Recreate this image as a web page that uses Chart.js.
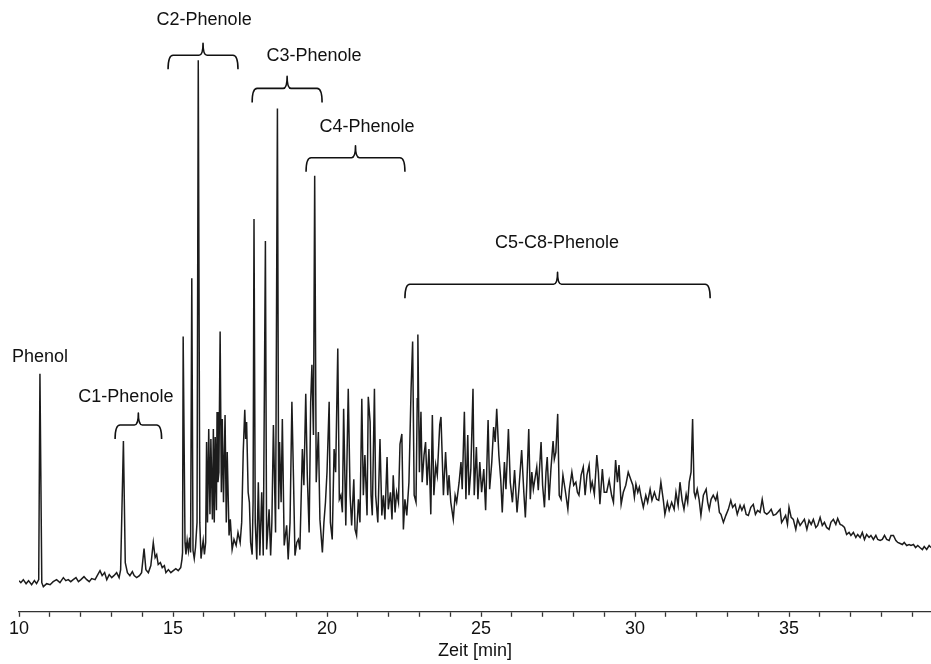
<!DOCTYPE html>
<html>
<head>
<meta charset="utf-8">
<title>Phenole – Chromatogramm</title>
<script src="https://cdn.jsdelivr.net/npm/chart.js@4.4.1/dist/chart.umd.min.js"></script>
<style>
  html, body { margin: 0; padding: 0; background: #fff; }
  #chart { display: block; }
</style>
</head>
<body>
<canvas id="chart" width="931" height="664"></canvas>
<script>
// chromatogram trace: [retention time in min, detector signal]
const traceStart = [
  [10.00, 22], [10.06, 20], [10.14, 23], [10.23, 19], [10.31, 22], [10.41, 18], [10.50, 22], [10.57, 19],
  [10.64, 23], [10.68, 228], [10.74, 20], [10.79, 16], [10.90, 19], [11.01, 18], [11.11, 21], [11.22, 23],
  [11.33, 20], [11.44, 25], [11.52, 22], [11.60, 23], [11.68, 21], [11.76, 23], [11.85, 25], [11.93, 21],
  [12.01, 23], [12.11, 26], [12.20, 23], [12.28, 21], [12.36, 24], [12.47, 23], [12.54, 27], [12.63, 32],
  [12.70, 27], [12.78, 30], [12.85, 23], [12.93, 28], [13.01, 25], [13.08, 27], [13.17, 30], [13.25, 25],
  [13.30, 33], [13.39, 161], [13.45, 40], [13.52, 30], [13.60, 27], [13.68, 31], [13.74, 27], [13.82, 25],
  [13.91, 27], [13.98, 30], [14.06, 54], [14.12, 33], [14.20, 30], [14.28, 37], [14.36, 60], [14.42, 45],
  [14.47, 48], [14.52, 38], [14.59, 40], [14.65, 35], [14.72, 37], [14.77, 30], [14.85, 33], [14.93, 30],
  [15.01, 32], [15.09, 34], [15.17, 32], [15.25, 35], [15.29, 43]
];

const traceC2C3 = [
  [15.31, 50], [15.33, 265], [15.39, 60], [15.42, 48], [15.46, 62], [15.50, 52], [15.54, 65], [15.57, 50],
  [15.61, 323], [15.65, 52], [15.69, 44], [15.73, 55], [15.78, 80], [15.82, 540], [15.87, 80], [15.91, 44],
  [15.95, 55], [15.98, 62], [16.02, 48], [16.06, 60], [16.09, 160], [16.12, 80], [16.16, 173], [16.20, 88],
  [16.23, 163], [16.28, 83], [16.31, 173], [16.34, 80], [16.37, 165], [16.41, 92], [16.43, 190], [16.46, 120],
  [16.49, 130], [16.53, 270], [16.57, 110], [16.60, 183], [16.64, 100], [16.69, 187], [16.73, 80], [16.76, 150],
  [16.82, 67], [16.86, 83], [16.92, 53], [16.98, 63], [17.05, 57], [17.11, 70], [17.18, 60], [17.23, 80],
  [17.28, 150], [17.33, 192], [17.36, 163], [17.39, 180], [17.44, 110], [17.48, 100], [17.52, 60], [17.57, 48],
  [17.60, 100], [17.63, 382], [17.67, 80], [17.72, 43], [17.77, 120], [17.82, 47], [17.88, 110], [17.93, 47],
  [18.00, 360], [18.04, 53], [18.12, 93], [18.17, 47], [18.21, 80], [18.26, 177], [18.33, 70], [18.39, 492],
  [18.43, 93], [18.46, 160], [18.51, 100], [18.55, 183], [18.61, 57], [18.69, 77], [18.74, 43], [18.80, 80],
  [18.86, 200], [18.91, 127], [18.96, 47], [19.02, 60], [19.07, 63], [19.12, 53], [19.20, 153], [19.25, 117],
  [19.31, 208], [19.36, 127], [19.42, 70], [19.47, 200], [19.51, 237], [19.56, 167], [19.60, 425], [19.65, 120],
  [19.72, 170], [19.77, 83], [19.85, 50], [19.90, 80], [19.95, 100], [20.00, 130], [20.07, 200]
];

const traceC4 = [
  [20.11, 80], [20.17, 63], [20.23, 153], [20.28, 130], [20.35, 253], [20.40, 103], [20.45, 107], [20.50, 90],
  [20.54, 193], [20.61, 77], [20.69, 213], [20.75, 107], [20.80, 77], [20.87, 123], [20.91, 73], [20.96, 67],
  [21.02, 103], [21.07, 80], [21.13, 203], [21.18, 107], [21.23, 147], [21.30, 87], [21.34, 205], [21.40, 180],
  [21.43, 107], [21.47, 87], [21.54, 213], [21.58, 107], [21.65, 80], [21.72, 163], [21.78, 87], [21.83, 107],
  [21.88, 83], [21.95, 145], [21.99, 93], [22.06, 110], [22.11, 83], [22.15, 127], [22.21, 90], [22.26, 110],
  [22.32, 100], [22.37, 158], [22.43, 168], [22.48, 73], [22.53, 103], [22.59, 87], [22.66, 120], [22.73, 213],
  [22.78, 260], [22.83, 107]
];

const traceLate = [
  [22.89, 100], [22.93, 203], [22.95, 267], [23.00, 130], [23.05, 190], [23.09, 120], [23.15, 147], [23.20, 160],
  [23.25, 117], [23.31, 153], [23.37, 88], [23.42, 187], [23.47, 107], [23.53, 137], [23.58, 127], [23.66, 177],
  [23.70, 185], [23.78, 107], [23.85, 150], [23.92, 107], [23.96, 127], [24.02, 100], [24.10, 83], [24.16, 107],
  [24.21, 100], [24.29, 120], [24.35, 140], [24.39, 113], [24.46, 190], [24.51, 103], [24.57, 167], [24.61, 107],
  [24.67, 133], [24.74, 213], [24.78, 107], [24.85, 155], [24.90, 103], [24.96, 140], [25.02, 110], [25.09, 133],
  [25.15, 92], [25.23, 182], [25.28, 113], [25.35, 140], [25.41, 175], [25.46, 160], [25.51, 193], [25.58, 147],
  [25.64, 123], [25.69, 90], [25.76, 140], [25.81, 113], [25.89, 173], [25.95, 120], [26.02, 100], [26.09, 132],
  [26.17, 90], [26.23, 113], [26.32, 152], [26.39, 110], [26.44, 85], [26.49, 120], [26.55, 173], [26.60, 103],
  [26.65, 130], [26.70, 113], [26.75, 123], [26.81, 135], [26.86, 112], [26.95, 160], [27.00, 117], [27.06, 95],
  [27.11, 130], [27.15, 145], [27.21, 102], [27.27, 133], [27.34, 161], [27.38, 143], [27.43, 150], [27.49, 188],
  [27.54, 107], [27.60, 103], [27.66, 127], [27.73, 113], [27.82, 93], [27.87, 113], [27.95, 130], [28.01, 117],
  [28.08, 120], [28.13, 110], [28.18, 107], [28.25, 127], [28.32, 135], [28.38, 107], [28.44, 127], [28.51, 137],
  [28.56, 113], [28.61, 120], [28.68, 108], [28.76, 147], [28.81, 130], [28.86, 98]
];

const traceTail = [
  [28.94, 133], [29.00, 110], [29.08, 110], [29.16, 122], [29.24, 107], [29.30, 100], [29.37, 142], [29.43, 120],
  [29.48, 137], [29.55, 98], [29.62, 110], [29.70, 117], [29.78, 130], [29.86, 123], [29.93, 117], [29.98, 105],
  [30.03, 118], [30.09, 110], [30.14, 115], [30.20, 105], [30.27, 95], [30.35, 107], [30.41, 100], [30.49, 113],
  [30.55, 102], [30.63, 110], [30.70, 103], [30.77, 102], [30.84, 120], [30.92, 102], [30.97, 88], [31.05, 100],
  [31.11, 92], [31.19, 100], [31.27, 93], [31.33, 110], [31.40, 97], [31.46, 120], [31.53, 102], [31.59, 93],
  [31.66, 108], [31.71, 100], [31.76, 120], [31.82, 130], [31.87, 183], [31.92, 110], [31.96, 105], [32.02, 113],
  [32.08, 103], [32.14, 87], [32.22, 107], [32.31, 113], [32.36, 100], [32.41, 93], [32.47, 103], [32.54, 107],
  [32.62, 102], [32.67, 108], [32.74, 90], [32.79, 88], [32.87, 80], [32.95, 87], [33.03, 93], [33.11, 102],
  [33.17, 95], [33.25, 98], [33.32, 88], [33.41, 97], [33.47, 92], [33.54, 97], [33.61, 88], [33.68, 87],
  [33.76, 95], [33.84, 98], [33.91, 88], [33.98, 92], [34.06, 90], [34.13, 103], [34.20, 90], [34.28, 88],
  [34.35, 90], [34.42, 93], [34.49, 87], [34.57, 88], [34.63, 90], [34.71, 93], [34.76, 80], [34.82, 83],
  [34.89, 87], [34.95, 78], [35.00, 95], [35.07, 85], [35.14, 83], [35.22, 73], [35.28, 83], [35.36, 77],
  [35.43, 80], [35.50, 83], [35.58, 73], [35.65, 82], [35.72, 78], [35.79, 83], [35.87, 75], [35.93, 77],
  [36.01, 85], [36.08, 77], [36.15, 80], [36.22, 75], [36.30, 73], [36.36, 80], [36.44, 83], [36.52, 78],
  [36.58, 84], [36.66, 78], [36.73, 77], [36.80, 75], [36.87, 68], [36.95, 70], [37.01, 67], [37.09, 70],
  [37.17, 65], [37.23, 68], [37.31, 65], [37.38, 70], [37.45, 63], [37.52, 68], [37.60, 65], [37.66, 67],
  [37.74, 63], [37.82, 67], [37.88, 63], [37.96, 62], [38.03, 63], [38.10, 67], [38.17, 63], [38.25, 62],
  [38.31, 67], [38.39, 67], [38.47, 62], [38.53, 60], [38.61, 59], [38.68, 58], [38.74, 60], [38.82, 57],
  [38.90, 58], [38.96, 57], [39.04, 58], [39.11, 55], [39.18, 57], [39.25, 55], [39.33, 53], [39.39, 56],
  [39.47, 53], [39.55, 57], [39.61, 55]
];

// compound groups marked with braces
const groupNames = ["C1-Phenole", "C2-Phenole", "C3-Phenole", "C4-Phenole", "C5-C8-Phenole"];
const groupFrom = [13.12, 14.84, 17.57, 19.32, 22.53];
const groupTo = [14.63, 17.11, 19.84, 22.53, 32.44];
const groupLevel = [177, 545, 512, 443, 317];
const groupLabelTime = [13.47, 16.01, 19.58, 21.30, 27.47];
const groupLabelLevel = [205, 580, 544, 474, 358];

// single peak labels
const peakNames = ["Phenol"];
const peakLabelTime = [10.68];
const peakLabelLevel = [245];

const axisMin = 10;
const axisMax = 39.61;
const labelFont = '18px "Liberation Sans", Arial, sans-serif';

const points = [].concat(traceStart, traceC2C3, traceC4, traceLate, traceTail)
  .map(([t, v]) => ({ x: t, y: v }));

// draws the curly braces and the text above them
const bracePlugin = {
  id: "braces",
  afterDatasetsDraw(chart) {
    const { ctx, scales: { x, y } } = chart;
    const drop = 14, cusp = 12, r = 5;
    ctx.save();
    ctx.strokeStyle = "#111";
    ctx.lineWidth = 1.6;
    ctx.lineJoin = "round";
    groupNames.forEach((name, i) => {
      const xl = x.getPixelForValue(groupFrom[i]);
      const xr = x.getPixelForValue(groupTo[i]);
      const xm = (xl + xr) / 2;
      const yl = y.getPixelForValue(groupLevel[i]);
      ctx.beginPath();
      ctx.moveTo(xl, yl + drop);
      ctx.quadraticCurveTo(xl, yl, xl + r, yl);
      ctx.lineTo(xm - 4, yl);
      ctx.quadraticCurveTo(xm, yl, xm, yl - cusp);
      ctx.quadraticCurveTo(xm, yl, xm + 4, yl);
      ctx.lineTo(xr - r, yl);
      ctx.quadraticCurveTo(xr, yl, xr, yl + drop);
      ctx.stroke();
    });
    ctx.fillStyle = "#111";
    ctx.font = labelFont;
    ctx.textAlign = "center";
    ctx.textBaseline = "middle";
    groupNames.forEach((name, i) => {
      ctx.fillText(name, x.getPixelForValue(groupLabelTime[i]), y.getPixelForValue(groupLabelLevel[i]));
    });
    peakNames.forEach((name, i) => {
      ctx.fillText(name, x.getPixelForValue(peakLabelTime[i]), y.getPixelForValue(peakLabelLevel[i]));
    });
    ctx.restore();
  }
};

new Chart(document.getElementById("chart"), {
  type: "line",
  data: {
    datasets: [{
      data: points,
      borderColor: "#1c1c1c",
      borderWidth: 1.5,
      pointRadius: 0,
      tension: 0,
      fill: false
    }]
  },
  options: {
    responsive: false,
    animation: false,
    layout: { padding: { left: 19, right: 0, top: 0, bottom: 2 } },
    plugins: { legend: { display: false }, tooltip: { enabled: false } },
    scales: {
      x: {
        type: "linear",
        min: axisMin,
        max: axisMax,
        border: { display: true, color: "#333", width: 1.3 },
        grid: { drawOnChartArea: false, drawTicks: true, tickLength: 5, tickColor: "#333", tickWidth: 1.3 },
        ticks: {
          stepSize: 1,
          includeBounds: false,
          autoSkip: false,
          maxRotation: 0,
          padding: 1,
          color: "#111",
          font: { family: '"Liberation Sans", Arial, sans-serif', size: 18 },
          callback: (v) => (v % 5 === 0 ? String(v) : "")
        },
        title: {
          display: true,
          text: "Zeit [min]",
          color: "#111",
          font: { family: '"Liberation Sans", Arial, sans-serif', size: 18 },
          padding: { top: 0, bottom: 0 }
        }
      },
      y: { display: false, min: -9, max: 600 }
    }
  },
  plugins: [bracePlugin]
});
</script>
</body>
</html>
